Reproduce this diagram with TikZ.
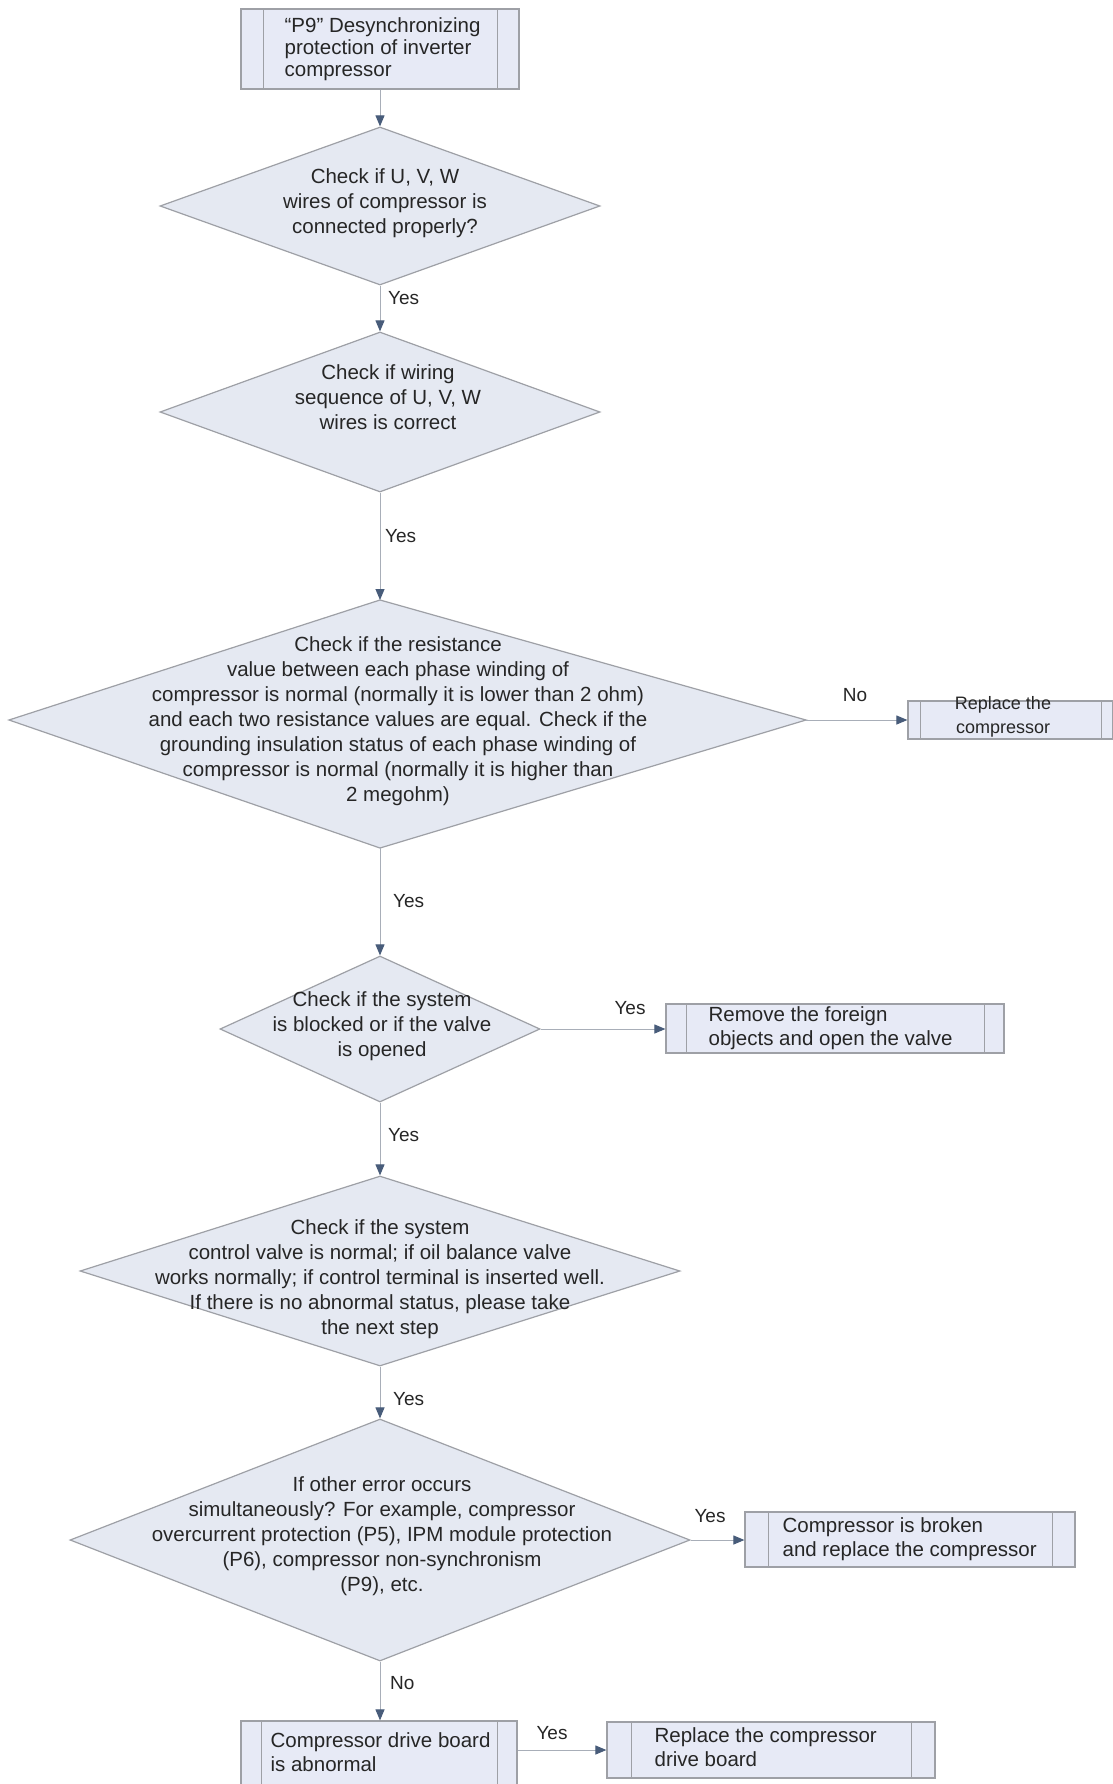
\documentclass[tikz,border=0pt]{standalone}
\usepackage{fontspec}
\setmainfont{Liberation Sans}
\usetikzlibrary{arrows.meta,shapes.geometric,calc}
\definecolor{bordc}{RGB}{158,160,166}
\definecolor{diafill}{RGB}{229,233,242}
\definecolor{boxfill}{RGB}{231,234,246}
\definecolor{linec}{RGB}{168,174,184}
\definecolor{tipc}{RGB}{72,92,122}
\definecolor{txtc}{RGB}{38,38,38}
\begin{document}
\begin{tikzpicture}[x=1pt,y=-1pt,
  dia/.style={diamond, draw=bordc, fill=diafill, line width=1.2pt, inner sep=0pt, aspect=1},
  ppbox/.style={rectangle, draw=bordc, fill=boxfill, line width=1.2pt, inner sep=0pt,
    path picture={
      \draw[bordc, line width=1pt] ([xshift=#1]path picture bounding box.north west) -- ([xshift=#1]path picture bounding box.south west);
      \draw[bordc, line width=1pt] ([xshift=-#1]path picture bounding box.north east) -- ([xshift=-#1]path picture bounding box.south east);
    }},
  ppbox/.default=22pt,
  txt/.style={font=\fontsize{20.5}{25}\selectfont, text=txtc, align=center, inner sep=0pt},
  ltxt/.style={font=\fontsize{20.5}{24}\selectfont, text=txtc, align=left, inner sep=0pt, anchor=west},
  lbl/.style={font=\fontsize{19}{22}\selectfont, text=txtc, inner sep=0pt},
  conn/.style={draw=linec, line width=1pt, -{Triangle[length=11pt,width=9pt,color=tipc]}}
]
\fill[white] (0,0) rectangle (1112,1784);
\useasboundingbox (0,0) rectangle (1112,1784);

% top box
\node[ppbox, minimum width=278pt, minimum height=80pt] (b0) at (380,49) {};
\node[ltxt, font=\fontsize{20.5}{22}\selectfont] (b0t) at ([xshift=44pt]b0.west) {“P9” Desynchronizing\\protection of inverter\\compressor};

% diamond 1
\node[dia, minimum width=440pt, minimum height=158pt] (d1) at (380,206) {};
\node[txt] (d1t) at (385,203) {Check if U, V, W\\wires of compressor is\\connected properly?};

% diamond 2
\node[dia, minimum width=440pt, minimum height=160pt] (d2) at (380,412) {};
\node[txt] (d2t) at (388,397) {Check if wiring\\sequence of U, V, W\\wires is correct};

% diamond 3 (kite)
\coordinate (d3t) at (380,600);
\coordinate (d3r) at (806,720);
\coordinate (d3b) at (380,848);
\coordinate (d3l) at (9,720);
\filldraw[fill=diafill, draw=bordc, line width=1.2pt] (d3t) -- (d3r) -- (d3b) -- (d3l) -- cycle;
\node[txt] (d3x) at (398,721) {Check if the resistance\\value between each phase winding of\\compressor is normal (normally it is lower than 2 ohm)\\and each two resistance values are equal. Check if the\\grounding insulation status of each phase winding of\\compressor is normal (normally it is higher than\\2 megohm)};

% replace compressor box
\node[ppbox=12pt, minimum width=205pt, minimum height=38pt] (rc) at (1010.5,720) {};
\node[txt, font=\fontsize{18}{24}\selectfont] (rct) at (1003,717) {Replace the\\compressor};

% diamond 4
\node[dia, minimum width=320pt, minimum height=146pt] (d4) at (380,1029) {};
\node[txt] (d4t) at (382,1026) {Check if the system\\is blocked or if the valve\\is opened};

% remove foreign box
\node[ppbox=20pt, minimum width=338pt, minimum height=49pt] (rf) at (835,1028.5) {};
\node[ltxt] (rft) at ([xshift=43pt]rf.west) {Remove the foreign\\objects and open the valve};

% diamond 5
\node[dia, minimum width=600pt, minimum height=190pt] (d5) at (380,1271) {};
\node[txt] (d5t) at (380,1279) {Check if the system\\control valve is normal; if oil balance valve\\works normally; if control terminal is inserted well.\\If there is no abnormal status, please take\\the next step};

% diamond 6
\node[dia, minimum width=620pt, minimum height=242pt] (d6) at (380,1540) {};
\node[txt] (d6t) at (382,1536) {If other error occurs\\simultaneously? For example, compressor\\overcurrent protection (P5), IPM module protection\\(P6), compressor non-synchronism\\(P9), etc.};

% compressor broken box
\node[ppbox=23pt, minimum width=330pt, minimum height=55pt] (bb) at (910,1539.5) {};
\node[ltxt] (bbt) at ([xshift=38pt]bb.west) {Compressor is broken\\and replace the compressor};

% drive board abnormal box
\node[ppbox=20pt, minimum width=276pt, minimum height=68pt] (da) at (379,1755) {};
\node[ltxt] (dat) at ($(da.west)+(30,-3)$) {Compressor drive board\\is abnormal};

% replace drive board box
\node[ppbox=24pt, minimum width=328pt, minimum height=56pt] (rd) at (771,1750) {};
\node[ltxt] (rdt) at ($(rd.west)+(48,-3)$) {Replace the compressor\\drive board};

% connectors
\draw[conn] (b0.south) -- (d1.north);
\draw[conn] (d1.south) -- (d2.north);
\draw[conn] (d2.south) -- (d3t);
\draw[conn] (d3r) -- (rc.west |- d3r);
\draw[conn] (d3b) -- (d4.north);
\draw[conn] (d4.east) -- (rf.west |- d4.east);
\draw[conn] (d4.south) -- (d5.north);
\draw[conn] (d5.south) -- (d6.north);
\draw[conn] (d6.east) -- (bb.west |- d6.east);
\draw[conn] (d6.south) -- (d6.south |- da.north);
\draw[conn] (da.east |- rd.west) -- (rd.west);

% labels
\node[lbl, anchor=west] (l1) at (388,298) {Yes};
\node[lbl, anchor=west] (l2) at (385,536) {Yes};
\node[lbl] (l3) at (855,695) {No};
\node[lbl, anchor=west] (l4) at (393,901) {Yes};
\node[lbl] (l5) at (630,1008) {Yes};
\node[lbl, anchor=west] (l6) at (388,1135) {Yes};
\node[lbl, anchor=west] (l7) at (393,1399) {Yes};
\node[lbl] (l8) at (710,1516) {Yes};
\node[lbl, anchor=west] (l9) at (390,1683) {No};
\node[lbl] (l10) at (552,1733) {Yes};
\end{tikzpicture}
\end{document}
